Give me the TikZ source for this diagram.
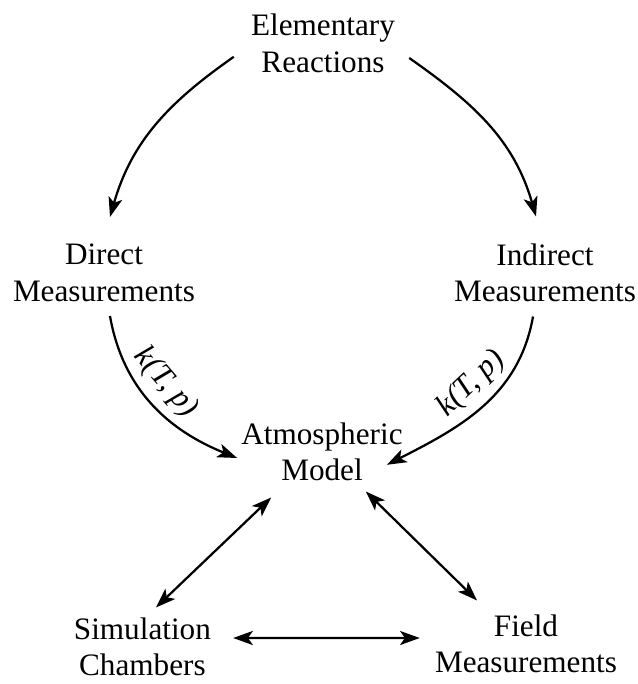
\documentclass[tikz,border=0pt]{standalone}
\usepackage{fontspec}
\setmainfont{Liberation Serif}
\usetikzlibrary{arrows.meta}
\pgfdeclarelayer{edgelayer}
\pgfdeclarelayer{nodelayer}
\pgfsetlayers{edgelayer,nodelayer,main}
\tikzset{font=\fontsize{22.2}{26}\selectfont}
\tikzstyle{stage}=[inner sep=0pt, align=center]
\tikzstyle{flow}=[-{Stealth[length=14pt,width=10pt,inset=3.5pt]}, line width=1.6pt]
\tikzstyle{link}=[{Stealth[length=14pt,width=10pt,inset=3.5pt]}-{Stealth[length=14pt,width=10pt,inset=3.5pt]}, line width=1.6pt]
\tikzstyle{rate}=[sloped, above=3pt, pos=0.46]
\begin{document}
\begin{tikzpicture}
	\useasboundingbox (0,0) rectangle (15.925,-17.1);
	\begin{pgfonlayer}{nodelayer}
		\node [style=stage] (ER) at (8.075,-1.09) {Elementary\\Reactions};
		\node [style=stage] (DM) at (2.6,-6.825) {Direct\\Measurements};
		\node [style=stage] (IM) at (13.625,-6.825) {Indirect\\Measurements};
		\node [style=stage] (AM) at (8.05,-11.3) {Atmospheric\\Model};
		\node [style=stage] (SC) at (3.56,-16.175) {Simulation\\Chambers};
		\node [style=stage] (FM) at (13.15,-16.1) {Field\\Measurements};
	\end{pgfonlayer}
	\begin{pgfonlayer}{edgelayer}
		\draw [style=flow, out=215, in=74] ([shift={(-0.425,-0.33)}]ER.west) to ([shift={(0.15,0.675)}]DM.north);
		\draw [style=flow, out=-35, in=106] ([shift={(0.35,-0.36)}]ER.east) to ([shift={(-0.225,0.675)}]IM.north);
		\draw [style=flow, out=-80, in=158] ([shift={(0.15,-0.35)}]DM.south) to node [style=rate] {\textit{k(T, p)}} ([shift={(-0.1,-0.15)}]AM.west);
		\draw [style=flow, out=260, in=27] ([shift={(-0.3,-0.35)}]IM.south) to node [style=rate] {\textit{k(T, p)}} ([shift={(-0.4,-0.32)}]AM.east);
		\draw [style=link] ([shift={(0.75,-0.4)}]AM.south west) to ([shift={(0.34,0.25)}]SC.north);
		\draw [style=link] ([shift={(-0.925,-0.25)}]AM.south east) to ([shift={(-1.225,0.35)}]FM.north);
		\draw [style=link] ([shift={(0.55,0.225)}]SC.east) to ([shift={(-0.375,0.15)}]FM.west);
	\end{pgfonlayer}
\end{tikzpicture}
\end{document}
